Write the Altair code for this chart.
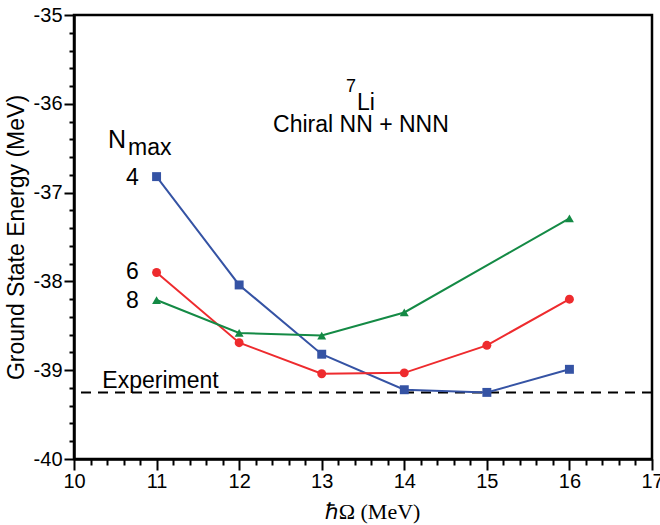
import altair as alt
import pandas as pd

# ---- data ----
hw = [11, 12, 13, 14, 15, 16]
e_n4 = [-36.82, -38.04, -38.82, -39.22, -39.25, -38.99]
e_n6 = [-37.90, -38.69, -39.04, -39.03, -38.72, -38.20]
hw_n8 = [11, 12, 13, 14, 16]
e_n8 = [-38.21, -38.58, -38.61, -38.35, -37.29]
experiment = -39.25

series_names = ["4", "6", "8"]
series_colors = ["#3553a4", "#ee2b2e", "#148a45"]
series_shapes = ["square", "circle", "triangle-up"]

x_ticks = [round(10 + 0.2 * i, 1) for i in range(36)]
y_ticks = [round(-40 + 0.2 * i, 1) for i in range(26)]

ann_text = ["N", "max", "7", "Li", "Chiral NN + NNN", "4", "6", "8", "Experiment"]
ann_x = [10.412, 10.654, 13.415, 13.426, 13.475, 10.708, 10.708, 10.708, 11.047]
ann_y = [-36.498, -36.577, -35.870, -36.07, -36.318, -36.914, -37.973, -38.30, -39.20]
ann_align = ["left", "left", "right", "left", "center", "center", "center", "center", "center"]
ann_size = [25, 23, 18, 23, 23, 23, 23, 23, 23]

rows = []
for h, e in zip(hw, e_n4):
    rows.append({"hw": h, "E": e, "Nmax": "4"})
for h, e in zip(hw, e_n6):
    rows.append({"hw": h, "E": e, "Nmax": "6"})
for h, e in zip(hw_n8, e_n8):
    rows.append({"hw": h, "E": e, "Nmax": "8"})
df = pd.DataFrame(rows)

FONT = "Liberation Sans"
is_major = "abs(datum.value - round(datum.value)) < 1e-6"

x_scale = alt.Scale(domain=[10, 17], nice=False, zero=False)
y_scale = alt.Scale(domain=[-40, -35], nice=False, zero=False)

x_axis = alt.Axis(
    values=x_ticks, tickCount=200, title="ℏΩ (MeV)", titleFont="Liberation Serif",
    titleFontSize=22, titleFontWeight="normal", titleColor="black", titlePadding=10,
    titleX=298,
    labelExpr=f"{is_major} ? toString(round(datum.value)) : ''",
    labelFont=FONT, labelFontSize=20, labelColor="black", labelPadding=1,
    labelOverlap=False, labelFlush=False,
    tickSize={"condition": {"test": is_major, "value": 11}, "value": 6},
    tickWidth=2, tickColor="black", domainColor="black", domainWidth=2.5,
    grid=False,
)
y_axis = alt.Axis(
    values=y_ticks, tickCount=200, title="Ground State Energy (MeV)", titleFont=FONT,
    titleFontSize=23, titleFontWeight="normal", titleColor="black", titlePadding=5,
    labelExpr=f"{is_major} ? toString(round(datum.value)) : ''",
    labelFont=FONT, labelFontSize=20, labelColor="black", labelPadding=2,
    labelOverlap=False, labelFlush=False,
    tickSize={"condition": {"test": is_major, "value": 10}, "value": 5},
    tickWidth=2, tickColor="black", domainColor="black", domainWidth=2.5,
    grid=False,
)

base = alt.Chart(df)
color = alt.Color("Nmax:N", scale=alt.Scale(domain=series_names, range=series_colors), legend=None)
shape = alt.Shape("Nmax:N", scale=alt.Scale(domain=series_names, range=series_shapes), legend=None)

lines = base.mark_line(strokeWidth=2).encode(
    x=alt.X("hw:Q", scale=x_scale, axis=x_axis),
    y=alt.Y("E:Q", scale=y_scale, axis=y_axis),
    color=color,
    detail="Nmax:N",
)
points = base.mark_point(filled=True, size=80, opacity=1).encode(
    x="hw:Q", y="E:Q", color=color, shape=shape,
)

exp_rule = alt.Chart(pd.DataFrame({"E": [experiment]})).mark_rule(
    color="black", strokeWidth=2, strokeDash=[10, 7]
).encode(y="E:Q")

text_layers = []
for t, x, y, a, s in zip(ann_text, ann_x, ann_y, ann_align, ann_size):
    text_layers.append(
        alt.Chart(pd.DataFrame({"text": [t], "x": [x], "y": [y]})).mark_text(
            font=FONT, color="black", baseline="alphabetic", align=a, fontSize=s
        ).encode(x="x:Q", y="y:Q", text="text:N")
    )

chart = alt.layer(exp_rule, lines, points, *text_layers).properties(
    width=578, height=444,
    autosize=alt.AutoSizeParams(type="none"),
    padding={"left": 74, "top": 15, "right": 8, "bottom": 66},
    background="white",
).configure_view(stroke="black", strokeWidth=2.5)

chart.save("out.html", embed_options={"renderer": "svg", "actions": False})
